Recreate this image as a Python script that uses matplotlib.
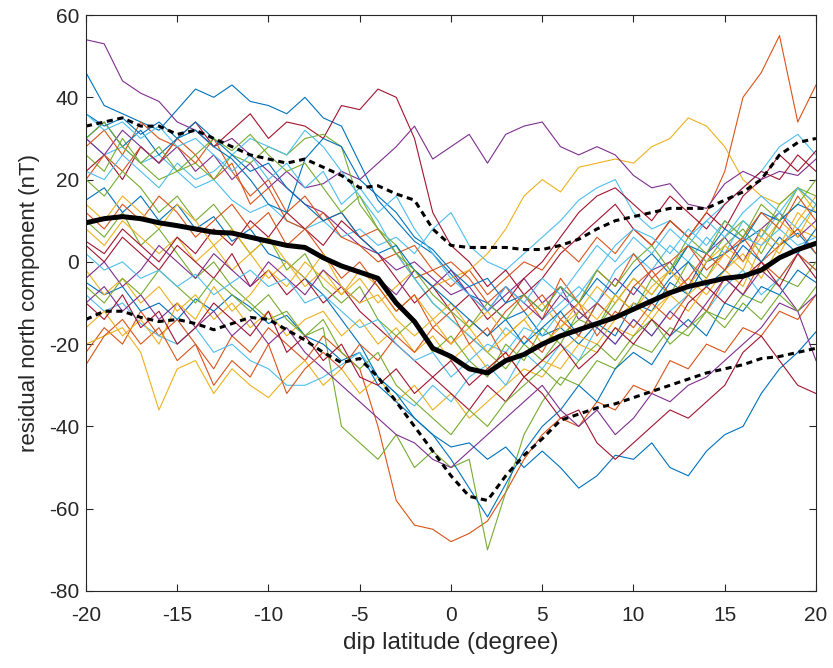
import numpy as np
import matplotlib
matplotlib.use("Agg")
import matplotlib.pyplot as plt

# dip latitude grid (degree)
lat = list(range(-20, 21))

# residual north component of single passes (nT) at 1 deg steps
blue_1 = [46, 38, 36, 34, 32, 37, 42, 40, 43, 39, 38, 36, 40, 35, 33, 24, 15, 10, 5, 2, -3,
          -8, -10, -14, -12, -18, -16, -20, -15, -18, -10, -12, -5, -8, 0, 2, 5, 8, 4, 7, 2]
orange_1 = [-22, -16, -20, -12, -18, -14, -20, -26, -18, -22, -16, -20, -24, -18, -22, -26, -40, -58, -64, -65, -68,
            -66, -63, -56, -48, -42, -38, -40, -34, -36, -30, -32, -24, -26, -20, -22, -16, -18, -12, -14, -8]
yellow_1 = [-20, -18, -16, -22, -36, -26, -24, -32, -26, -30, -33, -28, -24, -30, -26, -32, -28, -34, -30, -36, -32,
            -38, -34, -30, -26, -28, -22, -18, -20, -14, -10, -14, -8, -4, -8, -2, 2, -4, 4, 8, 6]
purple_1 = [54, 53, 44, 41, 39, 34, 32, 28, 30, 26, 22, 18, 14, 12, 8, 4, 2, -2, 0, -4, -8,
            -6, -12, -8, -4, -10, -6, -14, -10, -4, -8, -2, 0, -6, 2, 6, 0, 8, 12, 6, 10]
green_1 = [10, 6, 12, 4, 8, 2, -4, 0, -6, -10, -14, -12, -18, -16, -40, -44, -48, -42, -50, -46, -50,
           -48, -70, -56, -42, -34, -28, -30, -24, -26, -20, -22, -16, -18, -12, -14, -8, -10, -4, -6, 0]
cyan_1 = [30, 26, 28, 24, 26, 22, 18, 20, 15, 12, 14, 10, 8, 10, 6, 8, 4, 6, 2, 8, 12,
          4, 0, -2, 2, 6, 10, 15, 18, 20, 12, 8, 10, 6, 10, 14, 18, 22, 28, 31, 26]
red_1 = [22, 26, 20, 28, 24, 30, 34, 28, 32, 36, 30, 34, 33, 30, 38, 37, 42, 40, 30, 12, 4,
         0, -6, -2, -8, -4, 2, 6, 10, 14, 8, 4, 10, 6, 12, 8, 16, 20, 26, 22, 27]

blue_2 = [-5, -8, -6, -12, -10, -14, -9, -12, -8, -11, -15, -13, -18, -20, -24, -22, -30, -34, -38, -42, -45,
          -44, -48, -45, -50, -46, -50, -55, -52, -47, -48, -44, -50, -52, -46, -42, -40, -32, -26, -22, -17]
orange_2 = [20, 26, 22, 28, 24, 30, 26, 20, 24, 14, 18, 10, 8, 12, 6, 4, 0, 2, -4, -2, -6,
            -2, -8, -4, 0, -2, 4, 0, 6, 2, 8, 4, 10, 6, 12, 22, 40, 46, 55, 34, 43]
yellow_2 = [8, 4, 10, 6, 2, 6, 0, 4, -2, 2, -4, 0, -6, -2, -8, -4, -10, -6, -2, -6, -4,
            -2, 2, 8, 16, 20, 17, 23, 24, 25, 24, 28, 30, 35, 33, 28, 20, 16, 14, 18, 12]
purple_2 = [30, 26, 32, 28, 24, 28, 22, 26, 20, 24, 18, 22, 18, 19, 22, 20, 24, 28, 33, 25, 28,
            31, 24, 31, 33, 34, 28, 26, 28, 26, 21, 18, 19, 14, 13, 19, 22, 20, 22, 21, 25]
green_2 = [26, 22, 30, 24, 20, 22, 24, 20, 26, 24, 28, 26, 30, 31, 28, 14, 8, 4, -4, -10, -14,
           -18, -22, -26, -20, -24, -18, -14, -16, -10, -4, -8, -2, 4, 0, 6, 10, 6, 14, 18, 16]
cyan_2 = [-8, -12, -10, -15, -18, -20, -16, -22, -20, -24, -26, -30, -30, -28, -25, -22, -28, -32, -35, -30, -34,
          -28, -25, -30, -22, -26, -20, -24, -16, -20, -14, -18, -12, -8, -12, -6, -2, -8, -4, 2, -2]
red_2 = [4, 0, 6, 2, -2, 4, 0, -4, 2, -6, -2, -8, -4, -10, -6, -12, -16, -20, -24, -28, -32,
         -36, -30, -34, -28, -32, -38, -36, -44, -48, -44, -40, -36, -38, -34, -30, -22, -18, -24, -30, -32]

blue_3 = [15, 18, 12, 16, 10, 14, 8, 11, 5, 8, 2, 0, -4, -8, -14, -20, -28, -32, -38, -42, -48,
          -55, -62, -54, -46, -40, -36, -30, -34, -26, -22, -25, -18, -14, -18, -10, -12, -6, -8, -2, -5]
orange_3 = [28, 32, 26, 34, 30, 28, 24, 30, 22, 16, 20, 12, 16, 10, 12, 6, 8, 2, 4, -2, 0,
            -4, -10, -6, -12, -8, -14, -10, -18, -12, -16, -10, -14, -8, -12, -4, -8, 0, -4, 2, -2]
yellow_3 = [-2, -8, -4, -10, -6, -12, -8, -14, -10, -16, -12, -18, -14, -12, -18, -14, -20, -16, -22, -18, -24,
            -20, -26, -22, -28, -24, -26, -20, -22, -16, -18, -12, -8, -12, -6, -2, -6, 4, 10, 6, 14]
purple_3 = [-10, -6, -12, -8, -14, -10, -16, -12, -18, -14, -20, -16, -22, -26, -30, -34, -38, -42, -44, -48, -50,
            -46, -42, -38, -34, -30, -36, -40, -36, -42, -38, -32, -34, -30, -28, -24, -20, -16, -10, -12, -8]
green_3 = [20, 16, 22, 18, 12, 16, 10, 14, 8, 2, 6, -2, 2, -6, -10, -6, -14, -18, -14, -22, -18,
           -24, -28, -20, -24, -16, -20, -12, -16, -8, -12, -4, -8, 0, -4, 4, 8, 2, 10, 14, 20]
cyan_3 = [22, 20, 26, 22, 18, 24, 20, 22, 26, 30, 28, 26, 32, 28, 22, 16, 10, 2, -4, -10, -14,
          -18, -22, -16, -20, -14, -10, -6, -10, -2, 2, -2, 4, 0, 6, 2, 10, 6, 12, 8, 14]
red_3 = [5, 2, 8, 4, 0, 6, 2, 8, 4, 10, 6, 12, 8, 4, 10, 6, 2, -4, -10, -6, -12,
         -8, -14, -10, -4, 0, 6, 12, 16, 18, 14, 10, 16, 12, 8, 14, 18, 22, 20, 26, 22]

blue_4 = [36, 33, 35, 31, 34, 30, 32, 28, 25, 20, 14, 12, 25, 30, 28, 20, 16, 12, 6, 3, -2,
          -6, -4, -10, -8, -12, -6, -10, -4, -8, -2, 2, -3, 4, 2, 8, 5, 12, 10, 14, 12]
orange_4 = [-25, -18, -14, -20, -16, -24, -20, -30, -24, -28, -20, -32, -26, -22, -26, -20, -24, -18, -22, -16, -20,
            -14, -18, -12, -8, -14, -4, -10, -2, -6, 2, -4, 0, 4, -2, 2, 6, 0, 4, 8, 2]
yellow_4 = [-16, -12, -18, -14, -20, -10, -14, -6, -12, -8, -2, -6, 0, -4, -8, -2, -6, -12, -8, -14, -10,
            -16, -12, -18, -14, -10, -16, -12, -6, -10, -4, -8, -2, -6, 0, 4, 0, 6, 2, 10, 16]
purple_4 = [-4, 0, -6, -2, 4, 0, -4, 2, -2, -6, 0, -4, -8, -2, -6, -10, -4, -8, -2, -6, -2,
            -8, -12, -6, -10, -14, -8, -12, -16, -20, -14, -18, -12, -16, -10, -4, -8, -2, -6, -12, -24]
green_4 = [-6, -10, -4, -8, -2, -6, -10, -4, -8, -12, -8, -14, -18, -14, -22, -26, -22, -30, -34, -38, -42,
           -36, -40, -34, -30, -26, -30, -24, -20, -24, -18, -14, -20, -16, -12, -16, -10, -14, -8, -12, -6]
cyan_4 = [2, -2, 0, -4, -2, -6, -3, -8, -5, -2, -6, -4, -10, -8, -12, -16, -14, -20, -24, -22, -28,
          -24, -20, -22, -16, -18, -12, -8, -2, 4, 8, 6, 2, 8, 4, 10, 6, 4, 8, 4, 6]
red_4 = [-10, -14, -8, -16, -12, -20, -16, -10, -14, -18, -12, -22, -18, -24, -20, -28, -30, -26, -32, -28, -24,
         -30, -26, -22, -28, -24, -20, -26, -22, -16, -20, -14, -18, -10, -6, -10, -4, 0, -6, 2, -4]

blue_5 = [30, 34, 28, 32, 26, 30, 34, 30, 26, 22, 24, 18, 14, 10, 12, 6, 2, 4, -2, -6, -10,
          -14, -18, -14, -20, -16, -12, -18, -10, -14, -6, -10, -4, 0, -6, -2, 4, 0, 6, 2, 8]
orange_5 = [12, 8, 14, 10, 16, 12, 6, 10, 14, 8, 12, 4, 8, 2, -4, 0, -6, -12, -8, -16, -12,
            -20, -16, -24, -18, -22, -14, -18, -10, -14, -6, -2, -8, -4, 2, -2, 6, 12, 8, 16, 10]
yellow_5 = [14, 10, 16, 12, 8, 14, 10, 4, 8, 2, 6, 0, -4, 2, -6, -10, -8, -14, -18, -14, -20,
            -16, -22, -18, -14, -20, -16, -10, -14, -8, -12, -6, -2, -8, -4, 2, -2, 8, 4, 12, 8]
green_5 = [30, 34, 28, 24, 28, 22, 26, 30, 27, 31, 26, 22, 24, 18, 12, 16, 8, 2, -2, -8, -12,
           -16, -10, -14, -8, -12, -6, -10, -2, -6, 0, 4, -2, 6, 2, 10, 6, 14, 10, 18, 14]
cyan_5 = [36, 32, 34, 30, 33, 28, 30, 26, 22, 26, 20, 24, 18, 22, 14, 18, 12, 16, 8, 2, -4,
          -8, -12, -6, -10, -4, -8, -2, 4, 0, 6, 2, 8, 4, 10, 6, 12, 16, 12, 18, 14]

# statistics
mean_line = [9.5, 10.5, 11, 10.5, 9.5, 8.8, 8, 7.2, 7, 6, 5, 4, 3.5, 1, -1, -2.5, -4, -10, -14.5, -21, -23,
             -26, -27, -24, -22.5, -20, -18, -16.5, -15, -13.5, -11.5, -9.5, -7.5, -6, -5, -4, -3.5, -2, 1, 3, 4.5]
upper_line = [33, 34, 35, 33, 33, 31, 32, 30, 28, 26, 25, 24, 25, 23, 21, 18, 18.5, 16.5, 15, 8, 4,
              3.5, 3.5, 3.5, 3, 3, 4, 5.5, 8, 10, 11, 12, 13, 13, 13, 15, 17, 20, 26, 29, 30]
lower_line = [-14, -12, -12, -13.5, -14.5, -14, -15, -16.5, -15, -13.5, -14, -16.5, -19, -22, -24.5, -23.5, -28, -34, -40, -46, -52,
              -57, -58, -52, -47, -43, -38.5, -37, -35.5, -34.5, -33, -31.5, -30, -28.5, -27, -26, -25, -23.5, -23, -22, -21]

# matlab default color order
B, O, Y, P, G, C, R = '#0072BD', '#D95319', '#EDB120', '#7E2F8E', '#77AC30', '#4DBEEE', '#A2142F'
passes = [(blue_1, B), (orange_1, O), (yellow_1, Y), (purple_1, P), (green_1, G), (cyan_1, C), (red_1, R),
          (blue_2, B), (orange_2, O), (yellow_2, Y), (purple_2, P), (green_2, G), (cyan_2, C), (red_2, R),
          (blue_3, B), (orange_3, O), (yellow_3, Y), (purple_3, P), (green_3, G), (cyan_3, C), (red_3, R),
          (blue_4, B), (orange_4, O), (yellow_4, Y), (purple_4, P), (green_4, G), (cyan_4, C), (red_4, R),
          (blue_5, B), (orange_5, O), (yellow_5, Y), (green_5, G), (cyan_5, C)]

plt.rcParams['font.family'] = ['Liberation Sans', 'DejaVu Sans']
plt.rcParams['axes.unicode_minus'] = False
fig = plt.figure(figsize=(8.33, 6.68), dpi=100)
ax = fig.add_axes([0.1032, 0.1153, 0.8764, 0.8622])

for p, c in passes:
    ax.plot(lat, p, color=c, lw=0.8)

ax.plot(lat, upper_line, color='k', lw=2.2, ls=(0, (2, 1.5)))
ax.plot(lat, lower_line, color='k', lw=2.2, ls=(0, (2, 1.5)))
ax.plot(lat, mean_line, color='k', lw=3.6)

ax.set_xlim(-20, 20)
ax.set_ylim(-80, 60)
ax.set_xticks(np.arange(-20, 21, 5))
ax.set_yticks(np.arange(-80, 61, 20))
ax.tick_params(direction='in', top=True, right=True, length=5, width=0.8,
               labelsize=15, colors='#262626')
ax.tick_params(axis='x', pad=11)
ax.tick_params(axis='y', pad=5)
for s in ax.spines.values():
    s.set_color('#262626')
    s.set_linewidth(0.8)
ax.set_xlabel('dip latitude (degree)', fontsize=17.5, color='#262626', labelpad=5)
ax.set_ylabel('residual north component (nT)', fontsize=16, color='#262626', labelpad=6)

fig.savefig('out.png', dpi=100)
